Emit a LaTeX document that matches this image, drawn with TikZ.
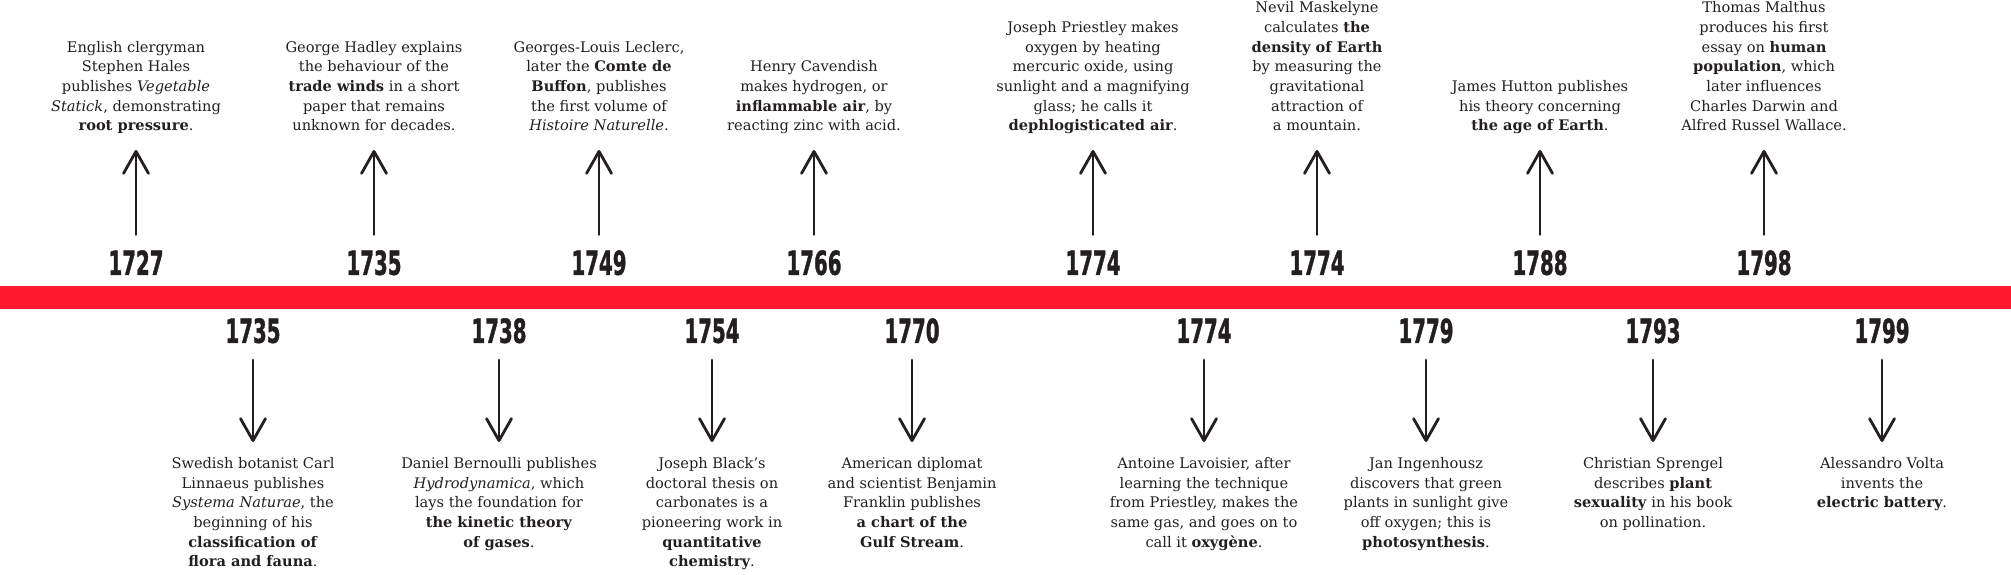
\documentclass[tikz,border=0pt]{standalone}
\usepackage{fontspec}
\usepackage{graphicx}
\usetikzlibrary{arrows.meta}
\setmainfont{DejaVu Serif}
\newfontfamily\yearfont{DejaVu Sans}[BoldFeatures={FakeBold=1.6}]
\definecolor{barred}{RGB}{255,26,46}
\definecolor{ink}{RGB}{35,31,32}
\newcommand\yr[1]{\scalebox{0.6}[1]{\yearfont\bfseries #1}}
\tikzset{
  yearnode/.style={inner sep=0pt, text height=24pt, text depth=0pt, font=\fontsize{33}{34}\selectfont, text=ink},
  txtnode/.style={inner sep=0pt, align=center, font=\fontsize{14.6}{19.7}\selectfont, text=ink},
  arr/.style={draw=ink, line width=2.8pt, line cap=round, -{Straight Barb[length=22pt,width=25pt,round]}},
}
\newcommand\topev[4]{%
  \node[yearnode, anchor=south] (#1y) at (#2,275) {\yr{#3}};
  \node[txtnode, anchor=south, text depth=4pt] (#1t) at (#2,135) {#4};
  \draw[arr, shorten <=16pt, shorten >=15pt] (#1y.north) -- (#1t.south);
}
\newcommand\botev[4]{%
  \node[yearnode, anchor=south] (#1y) at (#2,343) {\yr{#3}};
  \node[txtnode, anchor=north] (#1t) at (#2,457) {#4};
  \draw[arr, shorten <=17pt, shorten >=15pt] (#1y.south) -- (#1t.north);
}
\begin{document}
\begin{tikzpicture}[x=1pt, y=-1pt]
\useasboundingbox (0,0) rectangle (2011,574);
\fill[barred] (0,286) rectangle (2011,309);
\topev{a}{136}{1727}{English clergyman\\Stephen Hales\\publishes \textit{Vegetable}\\\textit{Statick}, demonstrating\\\textbf{root pressure}.}
\topev{b}{374}{1735}{George Hadley explains\\the behaviour of the\\\textbf{trade winds} in a short\\paper that remains\\unknown for decades.}
\topev{c}{599}{1749}{Georges-Louis Leclerc,\\later the \textbf{Comte de}\\\textbf{Buffon}, publishes\\the first volume of\\\textit{Histoire Naturelle}.}
\topev{d}{814}{1766}{Henry Cavendish\\makes hydrogen, or\\\textbf{inflammable air}, by\\reacting zinc with acid.}
\topev{e}{1093}{1774}{Joseph Priestley makes\\oxygen by heating\\mercuric oxide, using\\sunlight and a magnifying\\glass; he calls it\\\textbf{dephlogisticated air}.}
\topev{f}{1317}{1774}{Nevil Maskelyne\\calculates \textbf{the}\\\textbf{density of Earth}\\by measuring the\\gravitational\\attraction of\\a mountain.}
\topev{g}{1540}{1788}{James Hutton publishes\\his theory concerning\\\textbf{the age of Earth}.}
\topev{h}{1764}{1798}{Thomas Malthus\\produces his first\\essay on \textbf{human}\\\textbf{population}, which\\later influences\\Charles Darwin and\\Alfred Russel Wallace.}
\botev{i}{253}{1735}{Swedish botanist Carl\\Linnaeus publishes\\\textit{Systema Naturae}, the\\beginning of his\\\textbf{classification of}\\\textbf{flora and fauna}.}
\botev{j}{499}{1738}{Daniel Bernoulli publishes\\\textit{Hydrodynamica}, which\\lays the foundation for\\\textbf{the kinetic theory}\\\textbf{of gases}.}
\botev{k}{712}{1754}{Joseph Black’s\\doctoral thesis on\\carbonates is a\\pioneering work in\\\textbf{quantitative}\\\textbf{chemistry}.}
\botev{l}{912}{1770}{American diplomat\\and scientist Benjamin\\Franklin publishes\\\textbf{a chart of the}\\\textbf{Gulf Stream}.}
\botev{m}{1204}{1774}{Antoine Lavoisier, after\\learning the technique\\from Priestley, makes the\\same gas, and goes on to\\call it \textbf{oxygène}.}
\botev{n}{1426}{1779}{Jan Ingenhousz\\discovers that green\\plants in sunlight give\\off oxygen; this is\\\textbf{photosynthesis}.}
\botev{o}{1653}{1793}{Christian Sprengel\\describes \textbf{plant}\\\textbf{sexuality} in his book\\on pollination.}
\botev{p}{1882}{1799}{Alessandro Volta\\invents the\\\textbf{electric battery}.}
\end{tikzpicture}
\end{document}
